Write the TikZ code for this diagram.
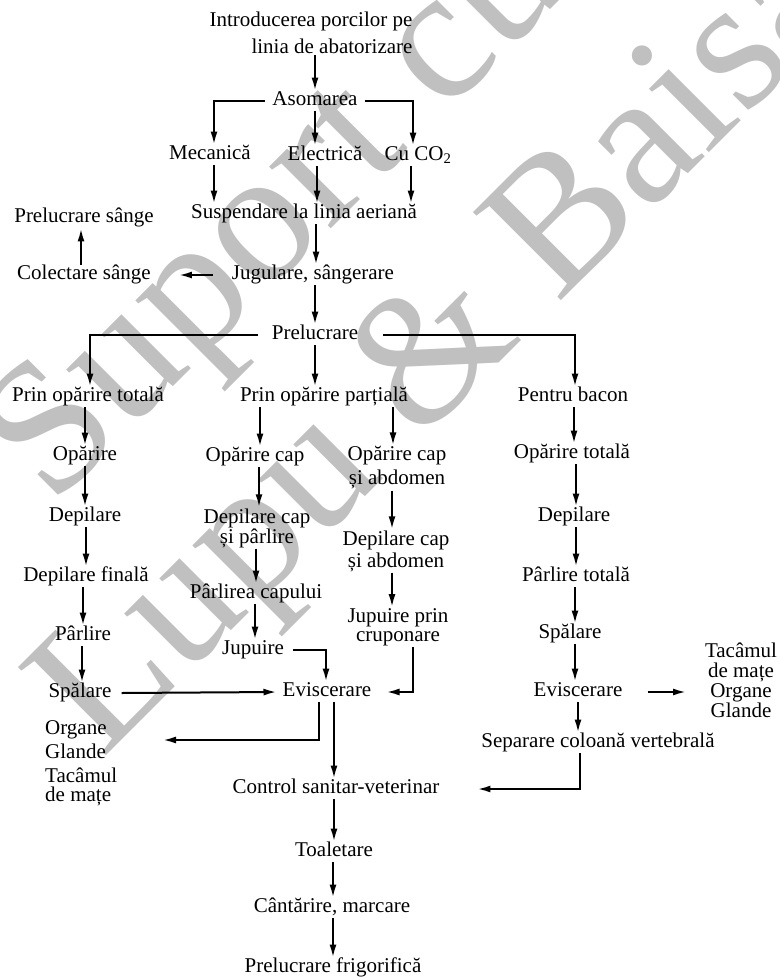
\documentclass[tikz,border=0pt]{standalone}
\usepackage{fontspec}
\setmainfont{Liberation Serif}
\usetikzlibrary{arrows.meta}
\definecolor{wmgray}{RGB}{192,192,192}
\newcommand\fsz{\fontsize{21}{25}\selectfont}
\begin{document}
\begin{tikzpicture}[x=1pt,y=-1pt,
  lbl/.style={font=\fsz, inner sep=1pt, text height=14pt, text depth=4.5pt},
  ml/.style={inner sep=1pt, align=center},
  arr/.style={line width=2pt, -{Latex[length=13pt,width=7pt]}},
  wm/.style={font=\fontsize{190}{200}\selectfont, text=wmgray, rotate=45, anchor=base west, inner sep=0pt}]
\useasboundingbox (0,0) rectangle (779,977);
\fill[white] (0,0) rectangle (779,977);
\clip (0,0) rectangle (779,977);
% watermark
\node[wm] (w1) at (52,508) {Suport curs};
\node[wm] (w2) at (102,760) {Lupu \& Baisan};
% top
\node[ml, align=right, font=\fontsize{21}{27}\selectfont] (intro) at (311,33) {Introducerea porcilor pe\\linia de abatorizare};
\node[lbl] (asom) at (315,101) {Asomarea};
\node[lbl] (mec) at (210,155) {Mecanică};
\node[lbl] (elec) at (325,156) {Electrică};
\node[lbl] (co2) at (418,156) {Cu CO\textsubscript{2}};
\node[lbl] (susp) at (304,214) {Suspendare la linia aeriană};
\node[lbl] (jug) at (313,275) {Jugulare, sângerare};
\node[lbl] (col) at (84,275) {Colectare sânge};
\node[lbl] (prs) at (84,218) {Prelucrare sânge};
\node[lbl] (prel) at (315,335) {Prelucrare};
\node[lbl] (pot) at (88,397) {Prin opărire totală};
\node[lbl] (pop) at (324,397) {Prin opărire parțială};
\node[lbl] (pb) at (573,397) {Pentru bacon};
% left column
\node[lbl] (a1) at (85,456) {Opărire};
\node[lbl] (a2) at (85,517) {Depilare};
\node[lbl] (a3) at (86,577) {Depilare finală};
\node[lbl] (a4) at (83,636) {Pârlire};
\node[lbl] (a5) at (80,693) {Spălare};
\node[ml, align=left, anchor=west, font=\fontsize{21}{24}\selectfont] (a6) at (44,763) {Organe\\Glande\\Tacâmul\\[-5pt]de mațe};
% middle-left column
\node[lbl] (b1) at (255,457) {Opărire cap};
\node[ml, font=\fontsize{21}{20}\selectfont] (b2) at (257,528) {Depilare cap\\și pârlire};
\node[lbl] (b3) at (256,594) {Pârlirea capului};
\node[lbl] (b4) at (253,650) {Jupuire};
% middle-right column
\node[ml, font=\fontsize{21}{24}\selectfont] (c1) at (397,468) {Opărire cap\\și abdomen};
\node[ml, font=\fontsize{21}{22}\selectfont] (c2) at (396,551) {Depilare cap\\și abdomen};
\node[ml, font=\fontsize{21}{19}\selectfont] (c3) at (398,627) {Jupuire prin\\cruponare};
% centre bottom
\node[lbl] (ev) at (327,692) {Eviscerare};
\node[lbl] (csv) at (336,789) {Control sanitar-veterinar};
\node[lbl] (toal) at (334,852) {Toaletare};
\node[lbl] (cant) at (332,908) {Cântărire, marcare};
\node[lbl] (pf) at (333,968) {Prelucrare frigorifică};
% right column
\node[lbl] (d1) at (572,454) {Opărire totală};
\node[lbl] (d2) at (574,517) {Depilare};
\node[lbl] (d3) at (576,577) {Pârlire totală};
\node[lbl] (d4) at (570,634) {Spălare};
\node[lbl] (d5) at (578,692) {Eviscerare};
\node[ml, font=\fontsize{21}{20}\selectfont] (d6) at (741,680) {Tacâmul\\de mațe\\Organe\\Glande};
\node[lbl] (d7) at (598,743) {Separare coloană vertebrală};
\coordinate (t1) at (163,740);
\coordinate (t2) at (686,692);
% connectors top
\draw[arr] (asom.north |- intro.south) -- (asom.north);
\draw[arr] ([xshift=-6pt]asom.west) -| ([xshift=4pt]mec.north);
\draw[arr] ([xshift=6pt]asom.east) -| ([xshift=-5pt]co2.north);
\draw[arr] (asom.south) -- (asom.south |- elec.north);
\draw[arr] ([xshift=4pt]mec.south) -- ([xshift=4pt]mec.south |- susp.north);
\draw[arr] ([xshift=-8pt]elec.south) -- ([xshift=-8pt]elec.south |- susp.north);
\draw[arr] ([xshift=-7pt]co2.south) -- ([xshift=-7pt]co2.south |- susp.north);
\draw[arr] ([xshift=3pt]jug.north |- susp.south) -- ([xshift=3pt]jug.north);
\draw[arr] ([xshift=-18pt]jug.west) -- ([xshift=27pt]col.east);
\draw[arr] ([xshift=-3pt]col.north) -- ([xshift=-3pt]col.north |- prs.south);
\draw[arr] (prel.north |- jug.south) -- (prel.north);
\draw[arr] ([xshift=-13pt]prel.west) -| ([xshift=2pt]pot.north);
\draw[arr] ([xshift=24pt]prel.east) -| ([xshift=2pt]pb.north);
\draw[arr] (prel.south) -- (prel.south |- pop.north);
\draw[arr] ([xshift=5pt]b1.north |- pop.south) -- ([xshift=5pt]b1.north);
\draw[arr] ([xshift=-4pt]c1.north |- pop.south) -- ([xshift=-4pt]c1.north);
\draw[arr] ([xshift=2pt]d1.north |- pb.south) -- ([xshift=2pt]d1.north);
% left column
\draw[arr] (a1.north |- pot.south) -- (a1.north);
\draw[arr] (a2.north |- a1.south) -- (a2.north);
\draw[arr] (a3.north |- a2.south) -- (a3.north);
\draw[arr] (a4.north |- a3.south) -- (a4.north);
\draw[arr] ([xshift=2pt]a5.north |- a4.south) -- ([xshift=2pt]a5.north);
\draw[arr] ([xshift=9pt]a5.east) -- ([xshift=-5pt]ev.west);
% middle-left column
\draw[arr] ([xshift=2pt]b2.north |- b1.south) -- ([xshift=2pt]b2.north);
\draw[arr] (b3.north |- b2.south) -- (b3.north);
\draw[arr] ([xshift=2pt]b4.north |- b3.south) -- ([xshift=2pt]b4.north);
\draw[arr] ([xshift=8pt]b4.east) -| ([xshift=-1pt]ev.north);
% middle-right column
\draw[arr] ([xshift=-4pt]c2.north |- c1.south) -- ([xshift=-4pt]c2.north);
\draw[arr] ([xshift=-6pt]c3.north |- c2.south) -- ([xshift=-6pt]c3.north);
\draw[arr] ([xshift=15pt]c3.south) |- ([xshift=14pt]ev.east);
% centre bottom
\draw[arr] ([xshift=-8pt]ev.south) |- (t1);
\draw[arr] ([xshift=7pt]ev.south) -- ([xshift=7pt]ev.south |- csv.north);
\draw[arr] (toal.north |- csv.south) -- (toal.north);
\draw[arr] ([xshift=1pt]cant.north |- toal.south) -- ([xshift=1pt]cant.north);
\draw[arr] (pf.north |- cant.south) -- (pf.north);
% right column
\draw[arr] ([xshift=2pt]d2.north |- d1.south) -- ([xshift=2pt]d2.north);
\draw[arr] (d3.north |- d2.south) -- (d3.north);
\draw[arr] ([xshift=5pt]d4.north |- d3.south) -- ([xshift=5pt]d4.north);
\draw[arr] ([xshift=-3pt]d5.north |- d4.south) -- ([xshift=-3pt]d5.north);
\draw[arr] ([xshift=24pt]d5.east) -- (t2);
\draw[arr] (d5.south) -- (d5.south |- d7.north);
\draw[arr] ([xshift=-18pt]d7.south) |- ([xshift=37pt]csv.east);
\end{tikzpicture}
\end{document}
